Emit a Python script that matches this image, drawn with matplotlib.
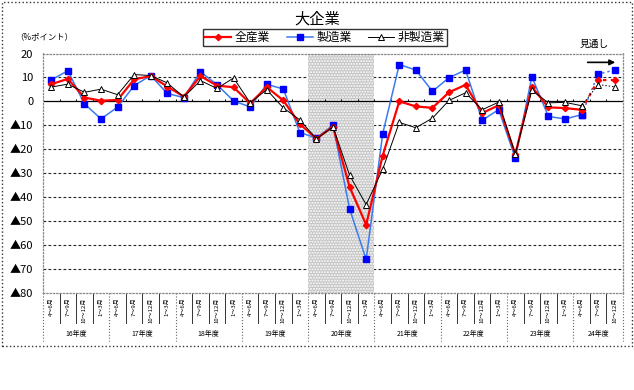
import matplotlib
matplotlib.use("Agg")
import matplotlib.pyplot as plt
import matplotlib.patches as mpatches
from matplotlib.transforms import blended_transform_factory
from matplotlib.lines import Line2D

plt.rcParams['font.family'] = ['Noto Sans CJK JP', 'DejaVu Sans']

quarters = ['4～6月', '7～9月', '10～12月', '1～3月']
years = ['16年度', '17年度', '18年度', '19年度', '20年度', '21年度', '22年度', '23年度', '24年度']
year_counts = [4, 4, 4, 4, 4, 4, 4, 4, 3]

all_ind = [7.2, 9.4, 1.6, 0.3, 0.6, 9.2, 10.6, 6.2, 2.0, 10.6, 6.6, 5.9,
           -0.8, 6.0, 0.4, -9.5, -15.5, -10.6, -35.7, -51.5, -22.6, 0.0, -2.1, -2.7,
           3.8, 6.9, -4.9, -1.6, -22.1, 6.1, -2.5, -2.8, -3.5, 8.9, 8.9]
mfg = [9.0, 12.8, -1.0, -7.3, -2.4, 6.6, 10.8, 3.3, 1.6, 12.4, 7.0, 0.2,
       -2.3, 7.1, 5.2, -13.0, -15.3, -9.9, -44.8, -66.0, -13.5, 15.4, 13.1, 4.2,
       9.9, 13.1, -7.9, -3.4, -23.7, 10.3, -6.3, -7.3, -5.6, 11.4, 13.1]
nonmfg = [6.0, 7.2, 3.8, 5.1, 2.8, 11.2, 10.8, 7.7, 1.8, 8.7, 5.4, 9.8,
          -0.6, 4.9, -2.7, -7.7, -15.7, -10.6, -30.8, -43.1, -28.3, -8.8, -11.0, -7.0,
          0.4, 3.6, -3.5, -0.3, -22.0, 4.6, -0.6, -0.4, -1.8, 7.0, 6.1]
n_actual = 33  # points up to 24年度 4～6月 are actual; rest are 見通し
shade_year = '20年度'

yticks = [20, 10, 0, -10, -20, -30, -40, -50, -60, -70, -80]
ytick_labels = ['20', '10', '0', '▲10', '▲20', '▲30', '▲40', '▲50', '▲60', '▲70', '▲80']

W, H = 634, 390
fig = plt.figure(figsize=(W / 100, H / 100), dpi=100)
L, R, T, B = 43, 623, 53.5, 293
ax = fig.add_axes([L / W, 1 - B / H, (R - L) / W, (B - T) / H])

n = len(all_ind)
x = list(range(n))
ax.set_xlim(-0.5, n - 0.5)
ax.set_ylim(-80, 20)

# shaded period
start = 0
for yl, c in zip(years, year_counts):
    if yl == shade_year:
        ax.axvspan(start - 0.5, start + c - 0.5, facecolor='#c4c4c4', edgecolor='white',
                   hatch='......', linewidth=0, zorder=1.5)
    start += c

# grid lines
for yv in yticks:
    if yv in (0, 20, -80):
        continue
    ax.axhline(yv, color='#222222', lw=0.8, ls=(0, (2.5, 2)), zorder=1)
ax.axhline(0, color='black', lw=0.9, zorder=2)
ax.vlines([i + 0.5 for i in range(n - 1)], 0, 1.0, color='black', lw=0.7, zorder=2)

# series
series = [
    (all_ind, dict(color='#ff0000', lw=1.6, marker='D', ms=3.2, mfc='#ff0000', mec='#ff0000'), 4),
    (mfg, dict(color='#3a7af0', lw=1.1, marker='s', ms=4.5, mfc='#0000ff', mec='#0000ff'), 3),
    (nonmfg, dict(color='black', lw=0.7, marker='^', ms=4.5, mfc='white', mec='black', mew=0.7), 5),
]
for vals, st, z in series:
    ax.plot(x[:n_actual], vals[:n_actual], zorder=z, **st)
    ax.plot(x[n_actual - 1:], vals[n_actual - 1:], zorder=z,
            **{**st, 'ls': (0, (1.5, 2.0))})

# axes styling
for s in ax.spines.values():
    s.set_color('#888888')
    s.set_linestyle(':')
    s.set_linewidth(0.9)
ax.set_yticks(yticks)
ax.set_yticklabels(ytick_labels, fontsize=8)
ax.tick_params(axis='y', length=0, pad=7)
ax.set_xticks([])

# category labels
tr = blended_transform_factory(ax.transData, ax.transAxes)
ph = B - T
def ay(py):
    return (B - py) / ph

idx = 0
for yl, c in zip(years, year_counts):
    for q in range(c):
        ax.text(idx + q, ay(297.5), quarters[q], rotation=90, ha='center', va='top',
                fontsize=4.3, transform=tr, clip_on=False)
    ax.text(idx + (c - 1) / 2, ay(334), yl, ha='center', va='center', fontsize=5,
            transform=tr, clip_on=False)
    for q in range(1, c):
        ax.add_line(Line2D([idx + q - 0.5] * 2, [0, ay(323)], transform=tr, color='#333333',
                           lw=0.7, clip_on=False))
    ax.add_line(Line2D([idx - 0.5] * 2, [0, ay(341)], transform=tr, color='#666666',
                       lw=0.8, ls=':', clip_on=False))
    idx += c
ax.add_line(Line2D([idx - 0.5] * 2, [0, ay(341)], transform=tr, color='#666666',
                   lw=0.8, ls=':', clip_on=False))

# title and texts
fig.text(317 / W, 1 - 19 / H, '大企業', ha='center', va='center', fontsize=11)
fig.text(15 / W, 1 - 37 / H, '（%ポイント）', ha='left', va='center', fontsize=6)
fig.text(594 / W, 1 - 44 / H, '見通し', ha='center', va='center', fontsize=7)
ax.annotate('', xy=(34.2, 16.3), xytext=(32.2, 16.3),
            arrowprops=dict(arrowstyle='-|>', color='black', lw=1.2, mutation_scale=8),
            annotation_clip=False)

# legend
handles = [
    Line2D([], [], color='#ff0000', lw=1.6, marker='D', ms=3.2),
    Line2D([], [], color='#3a7af0', lw=1.1, marker='s', ms=4.5, mfc='#0000ff', mec='#0000ff'),
    Line2D([], [], color='black', lw=0.7, marker='^', ms=4.5, mfc='white', mec='black', mew=0.7),
]
leg = fig.legend(handles, ['全産業', '製造業', '非製造業'], loc='center',
                 bbox_to_anchor=(325 / W, 1 - 37.5 / H), ncol=3, fontsize=8.5,
                 frameon=True, fancybox=False, edgecolor='black', borderpad=0.2,
                 handlelength=2.2, handletextpad=0.3, columnspacing=1.4,
                 borderaxespad=0)
leg.get_frame().set_linewidth(1.0)

# outer frame
fig.patches.append(mpatches.Rectangle((1.5 / W, 1 - 346 / H), 630.5 / W, 344.5 / H,
                                      transform=fig.transFigure, fill=False,
                                      edgecolor='#333333', lw=1.0, ls=':'))

fig.savefig('out.png', dpi=100, facecolor='white')
